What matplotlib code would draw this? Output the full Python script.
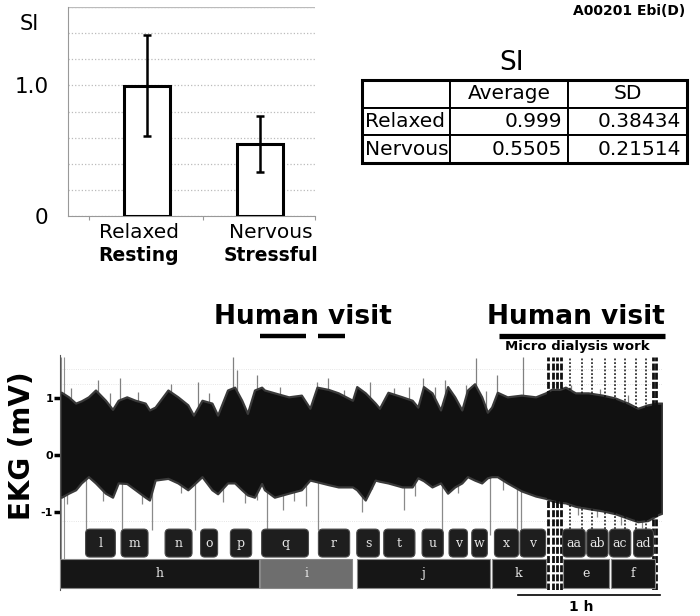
import numpy as np
import matplotlib.pyplot as plt
from matplotlib.patches import FancyBboxPatch, Rectangle

# ---- SI summary (top) ----
conditions = ["Relaxed", "Nervous"]
cond_sub = ["Resting", "Stressful"]
si_mean = [0.999, 0.5505]
si_sd = [0.38434, 0.21514]
table_cols = ["Average", "SD"]

# ---- EKG envelope, time in hours, amplitude in mV ----
t_h = [0.00, 0.01, 0.06, 0.11, 0.15, 0.20, 0.25, 0.32, 0.37, 0.41,
       0.47, 0.53, 0.60, 0.63, 0.67, 0.76, 0.83, 0.90, 0.94, 1.00,
       1.07, 1.11, 1.18, 1.23, 1.28, 1.32, 1.37, 1.42, 1.44, 1.51,
       1.61, 1.70, 1.76, 1.81, 1.89, 1.96, 2.06, 2.09, 2.15, 2.22,
       2.25, 2.31, 2.41, 2.48, 2.52, 2.56, 2.62, 2.68, 2.73, 2.78,
       2.83, 2.87, 2.92, 2.97, 3.01, 3.04, 3.08, 3.15, 3.25, 3.35,
       3.42, 3.46, 3.52, 3.56, 3.63, 3.72, 3.82, 3.91, 4.00, 4.07,
       4.14, 4.21, 4.24]
ekg_high = [1.10, 1.10, 1.02, 0.91, 0.95, 1.02, 1.14, 0.96, 0.80, 0.96,
            1.02, 0.96, 0.91, 0.79, 0.84, 1.14, 1.02, 0.88, 0.70, 0.96,
            0.91, 0.70, 1.14, 1.19, 0.96, 0.73, 1.14, 1.19, 1.14, 1.09,
            1.02, 1.05, 0.82, 1.19, 1.15, 1.09, 0.96, 1.20, 1.09, 0.91,
            0.82, 1.10, 1.02, 0.96, 0.84, 1.20, 1.09, 0.79, 1.20, 1.02,
            0.79, 1.14, 1.25, 1.02, 0.75, 0.84, 1.10, 1.02, 1.05, 1.02,
            1.09, 1.15, 1.15, 1.19, 1.09, 1.09, 1.05, 1.00, 0.91, 0.82,
            0.88, 0.91, 0.91]
ekg_low = [-0.74, -0.74, -0.67, -0.61, -0.49, -0.38, -0.49, -0.67, -0.74, -0.49,
           -0.50, -0.61, -0.74, -0.79, -0.44, -0.41, -0.49, -0.61, -0.52, -0.38,
           -0.61, -0.68, -0.49, -0.49, -0.61, -0.70, -0.74, -0.50, -0.61, -0.74,
           -0.67, -0.61, -0.44, -0.47, -0.52, -0.56, -0.56, -0.61, -0.79, -0.44,
           -0.46, -0.49, -0.56, -0.56, -0.40, -0.45, -0.56, -0.49, -0.67, -0.56,
           -0.49, -0.38, -0.44, -0.49, -0.40, -0.38, -0.38, -0.49, -0.63, -0.72,
           -0.76, -0.80, -0.83, -0.84, -0.90, -0.94, -0.98, -1.03, -1.11, -1.17,
           -1.15, -1.05, -1.02]

# isolated spikes above the trace and event marks below it
spike_t = [0.27, 0.42, 0.97, 1.22, 1.25, 1.39, 1.81, 1.89, 2.18, 2.46,
           2.56, 2.71, 2.93, 3.08, 3.26, 0.08, 0.35, 0.55, 0.78, 1.05,
           1.55, 2.00, 2.35, 2.64, 2.86, 3.00, 3.60, 3.80, 4.00]
spike_top = [1.32, 1.35, 1.28, 1.72, 1.49, 1.40, 1.28, 1.35, 1.28, 1.19,
             1.35, 1.32, 1.70, 1.40, 1.72, 1.18, 1.08, 1.10, 1.24, 1.08,
             1.20, 1.14, 1.18, 1.20, 1.22, 1.12, 1.22, 1.15, 1.05]
mark_t = [0.18, 0.44, 0.65, 0.95, 1.39, 1.46, 1.57, 1.73, 1.82, 2.13,
          2.42, 2.69, 3.03, 3.22, 3.25, 0.05, 0.30, 0.58, 0.85, 1.15,
          1.30, 1.65, 2.20, 2.50, 2.80, 3.12, 3.65, 3.78, 3.95, 4.10]
mark_bottom = [-1.32, -1.30, -1.32, -1.32, -0.79, -1.32, -0.96, -0.90, -1.32, -1.00,
               -0.96, -1.32, -1.40, -1.30, -1.32, -0.86, -0.80, -0.86, -0.66, -0.82,
               -0.84, -0.80, -0.60, -0.72, -0.66, -0.62, -1.05, -1.08, -1.22, -1.28]
dialysis_t = [3.59, 3.68, 3.75, 3.84, 3.91, 3.98, 4.06, 4.13]
dense_t = [3.44, 3.47, 3.50, 3.53, 4.18, 4.20]

# human visits (hours)
visit_short = [(1.41, 1.73), (1.82, 2.01)]
visit_long = (3.09, 4.26)

# segment labels (hours)
small_lab = ["l", "m", "n", "o", "p", "q", "r", "s", "t", "u", "v", "w", "x", "v",
             "aa", "ab", "ac", "ad"]
small_start = [0.18, 0.43, 0.74, 0.99, 1.20, 1.42, 1.82, 2.09, 2.28, 2.55,
               2.74, 2.90, 3.06, 3.24, 3.54, 3.71, 3.87, 4.04]
small_end = [0.39, 0.62, 0.93, 1.11, 1.35, 1.75, 2.04, 2.25, 2.50, 2.70,
             2.87, 3.01, 3.23, 3.42, 3.70, 3.86, 4.02, 4.18]
big_lab = ["h", "i", "j", "k", "e", "f"]
big_start = [0.00, 1.41, 2.09, 3.04, 3.54, 3.88]
big_end = [1.40, 2.06, 3.03, 3.42, 3.87, 4.19]

W, H = 700, 616
def fx(px): return px / W
def fy(py): return 1 - py / H

fig = plt.figure(figsize=(7, 6.16), dpi=100)

# ================= bar chart =================
ax1 = fig.add_axes([fx(68), fy(216), 247 / W, 209 / H])
x = np.arange(len(conditions))
ax1.bar(x, si_mean, width=0.41, color="white", edgecolor="black", linewidth=2.2,
        yerr=si_sd, capsize=3,
        error_kw=dict(elinewidth=1.8, capthick=1.8, ecolor="black"), zorder=3)
ax1.set_xlim(-0.70, 1.49)
ax1.set_ylim(0, 1.6)
ax1.set_yticks(np.arange(0, 1.61, 0.2))
ax1.set_yticklabels(["0", "", "", "", "", "1.0", "", "", ""])
ax1.yaxis.grid(True, color="#bbbbbb", linestyle=":", linewidth=0.9)
ax1.tick_params(axis="y", length=0, pad=14, labelsize=15.5)
ax1.set_xticks([-0.51, 0.50, 1.49])
ax1.set_xticklabels([])
ax1.tick_params(axis="x", length=3, color="#999999")
for s in ["top", "right"]:
    ax1.spines[s].set_visible(False)
for s in ["left", "bottom"]:
    ax1.spines[s].set_color("#999999")
ax1.axhline(1.6, color="#bbbbbb", lw=0.9)
xt = ax1.get_xaxis_transform()
for i, (a, b) in enumerate(zip(conditions, cond_sub)):
    off = -0.07 if i == 0 else 0.10
    ax1.text(i + off, -0.081, a, transform=xt, ha="center", va="center", fontsize=14.5)
    ax1.text(i + off, -0.191, b, transform=xt, ha="center", va="center",
             fontsize=13.5, fontweight="bold")
fig.text(fx(29), fy(24), "SI", fontsize=15, ha="center", va="center")

# ================= table =================
fig.text(fx(685), fy(11), "A00201 Ebi(D)", fontsize=10, fontweight="bold",
         ha="right", va="center")
fig.text(fx(512), fy(63), "SI", fontsize=19, ha="center", va="center")
tax = fig.add_axes([fx(362), fy(163), 325 / W, 83 / H])
tax.axis("off")
cells = [[c, str(m), str(s)] for c, m, s in zip(conditions, si_mean, si_sd)]
tbl = tax.table(cellText=cells, colLabels=[""] + table_cols,
                colWidths=[0.271, 0.363, 0.366],
                cellLoc="right", colLoc="center", bbox=[0, 0, 1, 1])
tbl.auto_set_font_size(False)
tbl.set_fontsize(14.5)
for (r, c), cell in tbl.get_celld().items():
    cell.set_linewidth(1.4)
    cell.PAD = 0.05
    if r == 0:
        cell.set_text_props(ha="center")
    elif c == 0:
        cell.set_text_props(ha="left")
        cell.PAD = 0.03
tax.add_patch(Rectangle((0, 0), 1, 1, transform=tax.transAxes, fill=False,
                        lw=2.2, ec="black", clip_on=False))

# ================= EKG =================
ax2 = fig.add_axes([fx(60), fy(590), 602 / W, 235 / H])
ax2.set_xlim(0, 4.24)
ax2.set_ylim(-2.368, 1.754)
for yy in [1.25, 1.5, -1.15]:
    ax2.axhline(yy, color="#dddddd", lw=0.6, ls=":", zorder=0)
ax2.vlines(spike_t, 0, spike_top, color="#808080", lw=0.9, zorder=1)
ax2.vlines(mark_t, mark_bottom, 0, color="#8a8a8a", lw=0.9, zorder=1)
ax2.vlines([0.005, 0.025], -2.3, 1.72, color="#909090", lw=0.8, zorder=1)
ax2.fill_between(t_h, ekg_low, ekg_high, facecolor="#111111",
                 edgecolor="#3a3a3a", lw=1.6, zorder=2)
ax2.vlines(dialysis_t, -1.30, 1.70, color="#111111", lw=1.1,
           linestyles=[(0, (1.2, 1.2))], zorder=3)
ax2.vlines(dense_t, -2.368, 1.72, color="#111111", lw=2.0,
           linestyles=[(0, (2.5, 0.8))], zorder=3)

# segment boxes
for lab, a, b in zip(small_lab, small_start, small_end):
    ax2.add_patch(FancyBboxPatch((a, -1.79), b - a, 0.49,
                                 boxstyle="round,pad=0,rounding_size=0.03",
                                 mutation_aspect=2.5, fc="#1e1e1e", ec="#4a4a4a",
                                 lw=0.8, zorder=4))
    ax2.text((a + b) / 2, -1.545, lab, ha="center", va="center", color="#e6e6e6",
             family="DejaVu Serif", fontsize=9, zorder=5)
for lab, a, b in zip(big_lab, big_start, big_end):
    fc = "#6e6e6e" if lab == "i" else "#161616"
    ax2.add_patch(Rectangle((a, -2.33), b - a, 0.50, fc=fc, ec="#888888",
                            lw=0.8, zorder=4))
    ax2.text((a + b) / 2, -2.08, lab, ha="center", va="center", color="#e6e6e6",
             family="DejaVu Serif", fontsize=9, zorder=5)

# human visit annotations
for a, b in visit_short:
    ax2.plot([a, b], [2.08, 2.08], color="black", lw=3.2, clip_on=False,
             solid_capstyle="butt")
ax2.plot(visit_long, [2.08, 2.08], color="black", lw=3.8, clip_on=False,
         solid_capstyle="butt")
ax2.text((visit_short[0][0] + visit_short[-1][1]) / 2, 2.42, "Human visit",
         ha="center", va="center", fontsize=19, fontweight="bold")
ax2.text(sum(visit_long) / 2 - 0.04, 2.42, "Human visit",
         ha="center", va="center", fontsize=19, fontweight="bold")
ax2.text(sum(visit_long) / 2 - 0.03, 1.90, "Micro dialysis work",
         ha="center", va="center", fontsize=9.5, fontweight="bold")

# 1 h scale bar
ax2.plot([3.225, 4.225], [-2.456, -2.456], color="black", lw=1.2, clip_on=False)
ax2.text(3.67, -2.67, "1 h", ha="center", va="center", fontsize=10,
         fontweight="bold")

ax2.set_xticks([])
ax2.set_yticks([-1, 0, 1])
ax2.set_yticklabels(["-1", "0", "1"], fontweight="bold", fontsize=8)
ax2.tick_params(axis="y", length=4, width=2.5, pad=1)
for s in ["top", "right", "bottom"]:
    ax2.spines[s].set_visible(False)
ax2.spines["left"].set_color("#555555")
fig.text(fx(22), fy(446), "EKG (mV)", rotation=90, fontsize=20,
         fontweight="bold", ha="center", va="center")

fig.savefig("out.png", dpi=100, facecolor="white")
